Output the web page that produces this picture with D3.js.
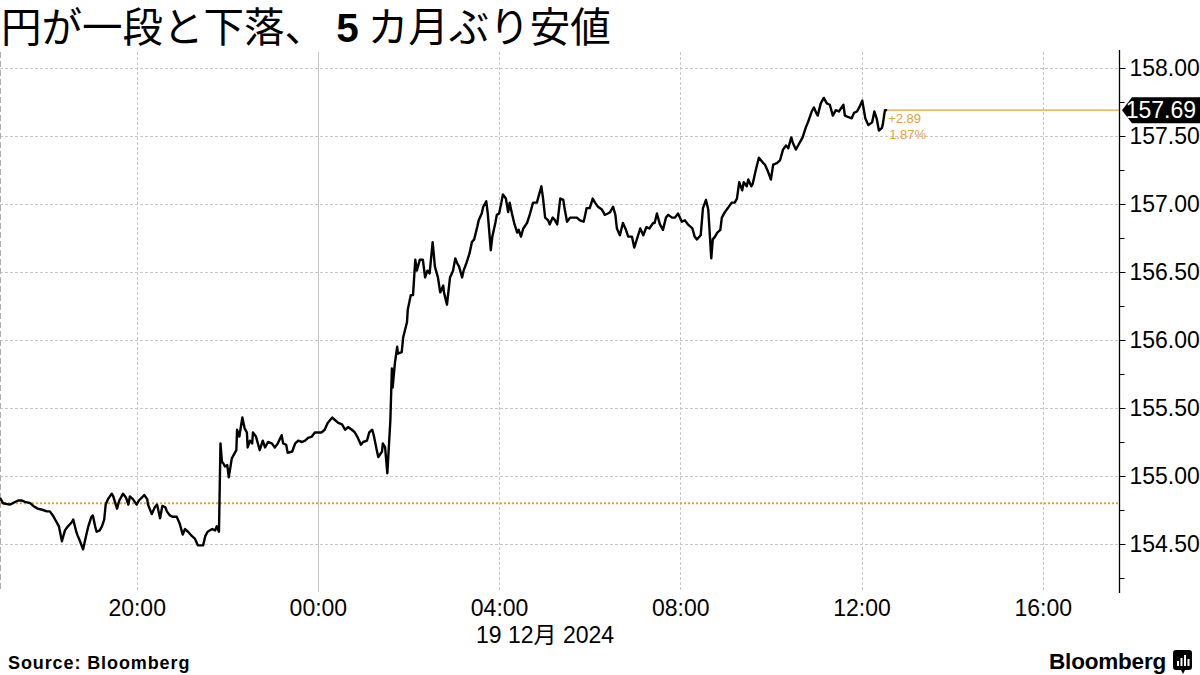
<!DOCTYPE html>
<html><head><meta charset="utf-8">
<script src="https://cdn.jsdelivr.net/npm/d3@7"></script>
<style>
body{margin:0;background:#fff;}
svg{display:block;}
</style></head><body>
<svg id="c" width="1200" height="675"></svg>
<script>
// ---------- data ----------
const titleParts = ["円が一段と下落、", "5", " カ月ぶり安値"];
// minutes elapsed since 2024-12-18 17:00 (Tokyo time)
const minutesFrom1700 = [-1,3,12,23,28,32,39,43,49,56,61,65,69,72,77,81,85,89,94,96,100,102,105,109,113,116,120,122,125,127,131,134,137,139,142,147,149,154,157,162,166,169,171,175,180,183,190,194,195,200,204,207,211,214,218,220,224,228,233,237,241,244,248,253,257,261,267,268,271,274,280,284,286,289,291,293,294,297,300,302,306,308,312,313,316,320,323,326,327,330,333,334,338,341,343,347,350,354,359,363,367,372,374,378,380,386,390,394,399,403,407,412,416,420,425,429,433,439,443,447,452,456,460,465,469,473,477,480,485,488,492,494,498,500,505,506,509,512,516,518,519,522,525,526,531,533,538,539,543,546,549,551,555,559,562,565,568,572,575,579,582,586,587,591,595,599,602,604,607,611,613,617,621,624,627,631,633,637,639,643,645,649,651,655,657,660,663,665,669,672,674,677,680,684,686,689,692,697,701,705,710,716,718,721,725,727,731,734,737,741,745,747,750,754,758,763,767,772,776,780,784,787,791,796,800,804,807,811,814,816,820,824,828,831,836,839,843,847,851,855,859,864,866,869,873,877,881,884,889,893,897,902,906,910,916,919,922,927,930,934,937,941,943,946,949,953,955,959,963,968,972,975,978,982,984,988,990,994,996,1000,1004,1010,1012,1016,1020,1023,1028,1032,1036,1040,1043,1047,1049,1053,1056,1060,1062,1066,1069,1074,1077,1080,1082,1086,1090,1094,1098,1102,1106,1110,1116,1118,1122,1127,1130,1134,1137,1141,1145,1149,1154,1157,1160,1163,1167,1168,1171,1174];
const prices = [154.84,154.80,154.79,154.82,154.82,154.81,154.80,154.78,154.76,154.75,154.74,154.74,154.71,154.68,154.63,154.52,154.60,154.63,154.66,154.68,154.59,154.56,154.52,154.46,154.56,154.63,154.70,154.71,154.63,154.59,154.60,154.63,154.68,154.79,154.83,154.87,154.85,154.76,154.82,154.87,154.84,154.79,154.85,154.83,154.79,154.82,154.86,154.83,154.79,154.72,154.77,154.79,154.69,154.78,154.77,154.74,154.71,154.70,154.70,154.65,154.57,154.61,154.59,154.56,154.54,154.49,154.49,154.49,154.56,154.59,154.61,154.60,154.63,154.59,155.24,155.10,155.10,155.07,155.08,154.99,155.13,155.15,155.19,155.34,155.29,155.43,155.35,155.32,155.21,155.26,155.24,155.32,155.29,155.23,155.19,155.26,155.21,155.25,155.24,155.21,155.24,155.30,155.24,155.23,155.17,155.18,155.24,155.26,155.25,155.26,155.28,155.29,155.32,155.32,155.32,155.34,155.39,155.43,155.41,155.39,155.38,155.34,155.36,155.34,155.32,155.28,155.23,155.25,155.26,155.32,155.34,155.30,155.19,155.14,155.18,155.24,155.21,155.02,155.41,155.79,155.65,155.83,155.95,155.90,155.91,156.02,156.13,156.22,156.33,156.33,156.59,156.51,156.59,156.59,156.46,156.51,156.49,156.72,156.54,156.46,156.35,156.40,156.35,156.26,156.46,156.51,156.60,156.57,156.54,156.46,156.51,156.57,156.64,156.72,156.74,156.83,156.88,156.93,156.98,157.02,156.93,156.66,156.76,156.86,156.92,156.93,157.01,157.07,157.04,156.94,157.01,156.93,156.86,156.79,156.81,156.76,156.82,156.86,156.93,157.01,157.01,157.13,157.05,156.90,156.88,156.85,156.90,156.88,156.85,157.04,157.03,156.96,156.87,156.90,156.90,156.90,156.88,156.87,156.97,156.97,157.04,157.01,156.98,156.96,156.92,156.93,156.94,156.98,156.92,156.82,156.77,156.86,156.81,156.76,156.76,156.68,156.75,156.82,156.77,156.83,156.82,156.86,156.86,156.93,156.85,156.81,156.90,156.92,156.90,156.90,156.93,156.87,156.88,156.85,156.82,156.76,156.74,156.77,156.97,157.03,156.96,156.60,156.74,156.76,156.79,156.81,156.90,156.94,156.97,157.01,157.01,157.04,157.16,157.10,157.16,157.13,157.18,157.13,157.15,157.25,157.34,157.30,157.29,157.24,157.18,157.29,157.30,157.32,157.40,157.43,157.41,157.49,157.45,157.40,157.43,157.47,157.49,157.56,157.60,157.68,157.71,157.67,157.65,157.74,157.78,157.74,157.73,157.65,157.69,157.68,157.73,157.65,157.64,157.63,157.67,157.68,157.71,157.76,157.63,157.58,157.60,157.68,157.63,157.54,157.56,157.58,157.69,157.69];
const prevClose = 154.80;
const lastPrice = 157.69;
const changeLabel = "+2.89";
const changePctLabel = "1.87%";
const yTicks = [154.5, 155.0, 155.5, 156.0, 156.5, 157.0, 157.5, 158.0];
const yMinorTicks = [154.25, 154.75, 155.25, 155.75, 156.25, 156.75, 157.25, 157.75];
const xTickLabels = ["20:00", "00:00", "04:00", "08:00", "12:00", "16:00"];
const dateLabel = "19 12月 2024";
const sourceLabel = "Source: Bloomberg";
const brandLabel = "Bloomberg";

// ---------- setup ----------
const svg = d3.select("#c");
const FONT = "'Liberation Sans Narrow','Arial Narrow','Liberation Sans',Arial,sans-serif";
const base = Date.UTC(2024, 11, 18, 17, 0);
const toDate = m => new Date(base + m * 60000);
const data = minutesFrom1700.map((m, i) => ({ t: toDate(m), v: prices[i] }));

const plotTop = 52, plotBottom = 592, plotRight = 1119;
const x = d3.scaleUtc()
  .domain([toDate(-1), toDate(1481)])
  .range([0, plotRight]);
const y = d3.scaleLinear().domain([154.5, 158]).range([544, 68]);

const xTickDates = xTickLabels.map(s => {
  const [h, mm] = s.split(":").map(Number);
  const day = h >= 17 ? 18 : 19;
  return new Date(Date.UTC(2024, 11, day, h, mm));
});

// ---------- grid ----------
const grid = svg.append("g");
grid.selectAll("line.h").data(yTicks).join("line")
  .attr("x1", 0).attr("x2", plotRight)
  .attr("y1", d => Math.round(y(d)) + 0.5).attr("y2", d => Math.round(y(d)) + 0.5)
  .attr("stroke", "#c8c8c8").attr("stroke-dasharray", "3,2").attr("stroke-width", 1);
grid.selectAll("line.v").data(xTickDates).join("line")
  .attr("x1", d => Math.round(x(d)) + 0.5).attr("x2", d => Math.round(x(d)) + 0.5)
  .attr("y1", plotTop).attr("y2", plotBottom)
  .attr("stroke", d => d.getUTCHours() === 0 ? "#c4c4c4" : "#c8c8c8")
  .attr("stroke-dasharray", d => d.getUTCHours() === 0 ? null : "3,2");
grid.append("line")
  .attr("x1", 0.5).attr("x2", 0.5).attr("y1", plotTop).attr("y2", plotBottom)
  .attr("stroke", "#b0b0b0").attr("stroke-dasharray", "6,3");

// ---------- previous close ----------
svg.append("line")
  .attr("x1", 0).attr("x2", plotRight)
  .attr("y1", y(prevClose)).attr("y2", y(prevClose))
  .attr("stroke", "#f29d1b").attr("stroke-width", 2).attr("stroke-dasharray", "2,2");

// ---------- last price line ----------
const last = data[data.length - 1];
svg.append("line")
  .attr("x1", x(last.t)).attr("x2", plotRight)
  .attr("y1", y(lastPrice)).attr("y2", y(lastPrice))
  .attr("stroke", "#e8a033").attr("stroke-width", 1.2);

// ---------- series ----------
svg.append("path").datum(data)
  .attr("fill", "none").attr("stroke", "#000").attr("stroke-width", 2.4)
  .attr("stroke-linejoin", "round")
  .attr("d", d3.line().x(d => x(d.t)).y(d => y(d.v)));

// change annotations
svg.append("text").text(changeLabel)
  .attr("x", x(last.t) + 1).attr("y", y(lastPrice) + 13)
  .attr("font-family", "'Liberation Sans',Arial,sans-serif").attr("font-size", 13)
  .attr("fill", "#e3a13b");
svg.append("text").text(changePctLabel)
  .attr("x", x(last.t) + 2).attr("y", y(lastPrice) + 29)
  .attr("font-family", "'Liberation Sans',Arial,sans-serif").attr("font-size", 13)
  .attr("fill", "#e3a13b");

// ---------- right axis ----------
const yAxis = svg.append("g").attr("transform", `translate(${plotRight + 0.5},0)`)
  .call(d3.axisRight(y).tickValues(yTicks).tickFormat(d3.format(".2f")).tickSize(6).tickPadding(4));
yAxis.select(".domain").remove();
yAxis.selectAll("text").attr("font-family", FONT).attr("font-size", 23).attr("fill", "#000");
yAxis.selectAll(".tick line").attr("stroke", "#000");
const yMinor = svg.append("g").attr("transform", `translate(${plotRight + 0.5},0)`)
  .call(d3.axisRight(y).tickValues(yMinorTicks).tickFormat("").tickSize(5));
yMinor.select(".domain").remove();
yMinor.selectAll(".tick line").attr("stroke", "#000");
svg.append("line")
  .attr("x1", plotRight + 0.5).attr("x2", plotRight + 0.5)
  .attr("y1", plotTop - 2).attr("y2", plotBottom + 1)
  .attr("stroke", "#000").attr("stroke-width", 1.3);

// last price tag
const ly = y(lastPrice);
const tag = svg.append("g");
tag.append("path")
  .attr("d", `M${plotRight + 3},${ly} L${plotRight + 13},${ly - 13} L1200,${ly - 13} L1200,${ly + 13} L${plotRight + 13},${ly + 13} Z`)
  .attr("fill", "#000");
tag.append("text").text(d3.format(".2f")(lastPrice))
  .attr("x", 1196).attr("y", ly + 8).attr("text-anchor", "end")
  .attr("font-family", FONT).attr("font-size", 23).attr("fill", "#fff");

// ---------- bottom axis ----------
const xAxis = svg.append("g").attr("transform", `translate(0,${plotBottom})`)
  .call(d3.axisBottom(x).tickValues(xTickDates).tickFormat((d, i) => xTickLabels[i]).tickSize(0).tickPadding(8));
xAxis.select(".domain").remove();
xAxis.selectAll("text").attr("font-family", FONT).attr("font-size", 23).attr("fill", "#000");

svg.append("text").text(dateLabel)
  .attr("x", 545).attr("y", 643).attr("text-anchor", "middle")
  .attr("font-family", FONT + ",'Noto Sans CJK JP'").attr("font-size", 23).attr("fill", "#000");

// ---------- title ----------
const title = svg.append("text").attr("x", 1).attr("y", 42)
  .attr("font-family", "'Noto Sans CJK JP',sans-serif").attr("font-size", 40.5).attr("fill", "#000");
title.append("tspan").text(titleParts[0]);
title.append("tspan").text(" " + titleParts[1]).attr("font-weight", 700).attr("font-family", "'Liberation Sans',Arial,sans-serif");
title.append("tspan").text(titleParts[2]);

// ---------- footer ----------
svg.append("text").text(sourceLabel)
  .attr("x", 8).attr("y", 669)
  .attr("font-family", "'Liberation Sans',Arial,sans-serif").attr("font-weight", 700)
  .attr("font-size", 18).attr("letter-spacing", 0.9).attr("fill", "#000");
svg.append("text").text(brandLabel)
  .attr("x", 1166).attr("y", 669).attr("text-anchor", "end")
  .attr("font-family", "'Liberation Sans',Arial,sans-serif").attr("font-weight", 700)
  .attr("font-size", 22.5).attr("letter-spacing", -0.2).attr("fill", "#000");
const icon = svg.append("g").attr("transform", "translate(1173,650)");
icon.append("rect").attr("width", 19).attr("height", 20).attr("rx", 3).attr("fill", "#000");
icon.append("path").attr("d", "M8,20 L10,24 L12,20 Z").attr("fill", "#000");
[[4, 11, 5], [7.5, 8, 8], [11, 5, 11], [14.5, 9, 7]].forEach(([bx, by, bh]) => {
  icon.append("rect").attr("x", bx).attr("y", by).attr("width", 2).attr("height", bh).attr("fill", "#fff");
});
</script>
</body></html>
